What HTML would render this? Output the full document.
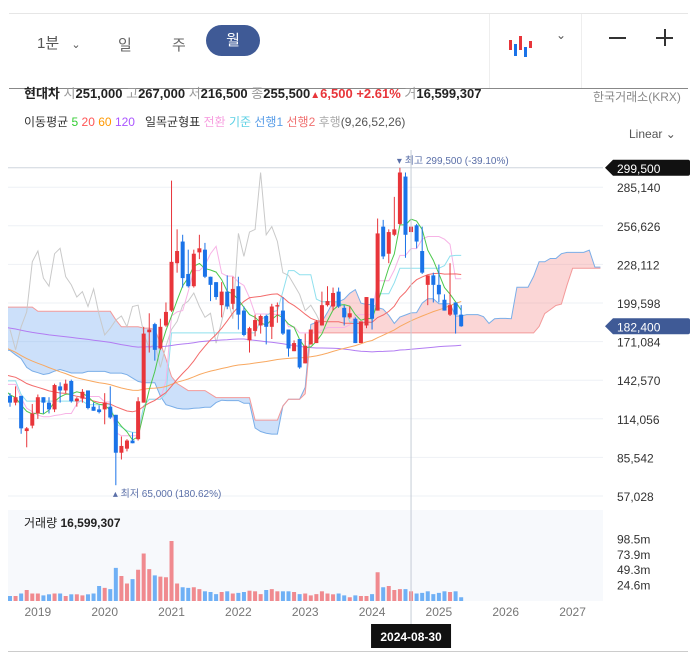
<!DOCTYPE html>
<html><head><meta charset="utf-8">
<style>
html,body{margin:0;padding:0;background:#fff;}
body{width:697px;height:663px;position:relative;overflow:hidden;font-family:"Liberation Sans","Noto Sans CJK KR",sans-serif;}
.a{position:absolute;white-space:nowrap;}
</style></head><body>
<div class="a" style="left:9px;top:13px;width:679px;height:1px;background:#e6e6e6"></div>
<div class="a" style="left:37px;top:32px;font-size:15px;color:#555">1분 <span style="font-size:11px;margin-left:8px">⌄</span></div>
<div class="a" style="left:118px;top:34px;font-size:15px;color:#666">일</div>
<div class="a" style="left:172px;top:34px;font-size:15px;color:#666">주</div>
<div class="a" style="left:206px;top:25px;width:54px;height:31px;border-radius:16px;background:#3f5a96;color:#fff;font-size:15px;text-align:center;line-height:31px">월</div>
<div class="a" style="left:489px;top:14px;width:1px;height:74px;background:#eee"></div>
<div class="a" style="left:581px;top:14px;width:1px;height:74px;background:#eee"></div>
<svg class="a" style="left:508px;top:34px" width="26" height="34">
<rect x="1" y="6" width="3" height="10" fill="#e8353a"/><rect x="6" y="10" width="3" height="12" fill="#1a73e8"/><rect x="11" y="2" width="3" height="14" fill="#e8353a"/><rect x="16" y="13" width="3" height="10" fill="#1a73e8"/><rect x="21" y="7" width="3" height="7" fill="#e8353a"/></svg>
<div class="a" style="left:556px;top:28px;font-size:12px;color:#555">⌄</div>
<div class="a" style="left:609px;top:37px;width:17px;height:1.5px;background:#333"></div>
<div class="a" style="left:656px;top:37px;width:17px;height:1.5px;background:#333"></div>
<div class="a" style="left:664px;top:29px;width:1.5px;height:17px;background:#333"></div>
<div class="a" style="left:9px;top:88px;width:679px;height:1px;background:#888"></div>
<div class="a" style="left:24px;top:86px;font-size:13px;color:#222;line-height:16px">
<b>현대차</b> <span style="color:#999">시</span><b>251,000</b> <span style="color:#999">고</span><b>267,000</b> <span style="color:#999">저</span><b>216,500</b> <span style="color:#999">종</span><b>255,500</b><span style="color:#e8353a;font-size:10px">▲</span><b style="color:#e8353a">6,500 +2.61%</b> <span style="color:#999">거</span><b>16,599,307</b></div>
<div class="a" style="left:593px;top:88px;font-size:12px;color:#888">한국거래소(KRX)</div>
<div class="a" style="left:24px;top:113px;font-size:12px;color:#333">이동평균 <span style="color:#3c3">5</span> <span style="color:#f55">20</span> <span style="color:#f90">60</span> <span style="color:#a5f">120</span> &nbsp; 일목균형표 <span style="color:#f7a0e0">전환</span> <span style="color:#5cd0e4">기준</span> <span style="color:#5a9ee8">선행1</span> <span style="color:#f07070">선행2</span> <span style="color:#aaa">후행</span><span style="color:#555">(9,26,52,26)</span></div>
<div class="a" style="left:629px;top:127px;font-size:12px;color:#555">Linear ⌄</div>
<svg class="a" id="chart" style="left:0;top:0" width="697" height="663"><defs><clipPath id="plot"><rect x="8" y="140" width="595" height="365"/></clipPath></defs></svg>
<script>
const opens=[131,126,131,105,109,118,130,126,121,138,135,142,127,129,135,123,121,121,123,117,89,92,98,99,126,178,184,166,183,194,229,245,221,212,237,239,219,215,198,208,199,212,194,172,179,183,190,182,197,194,180,164,173,155,169,170,183,198,197,208,196,189,188,170,183,203,194,256,236,250,258,293,252,257,238,213,220,213,202,191,200,191];
const highs=[133,138,131,108,125,132,130,130,140,141,143,143,130,136,135,126,124,133,138,117,101,99,104,130,182,192,185,188,200,290,254,250,239,239,250,244,219,215,215,220,219,219,197,182,191,191,191,199,200,204,180,172,173,177,180,187,208,212,211,211,198,197,189,186,204,203,262,261,254,278,299.5,296,256,258,256,220,222,228,206,229,200,198];
const lows=[123,124,103,93,107,114,118,118,119,126,133,126,123,126,121,120,118,110,114,65,84,90,96,98,126,163,157,165,182,193,222,211,211,211,232,218,201,202,189,195,195,180,175,163,175,177,169,173,185,176,160,164,151,155,169,170,183,197,194,196,183,188,170,170,181,180,194,232,229,249,257,233,252,240,221,198,200,200,194,190,177,182];
const closes=[126,130,107,107,118,130,126,121,139,135,140,127,129,134,122,120,119,126,115,89,94,98,96,127,177,180,165,182,193,230,238,218,212,236,240,219,213,204,208,197,210,191,176,181,187,190,182,197,198,177,166,170,152,168,180,186,198,201,207,197,189,192,170,186,204,188,251,234,252,254,296,250,256,245,222,220,213,206,194,198,191,182.4];
const volumes=[8,8,12,17.6,12,12,9,10.7,12,12,8,10.7,10.7,9,10.7,12,24,21,19,53,40,28,35,50,76,51,41,39,38,96,28,22,21,22,19,15.5,14.4,11,14.4,15.5,12,13,14.4,16.5,15.5,11,17.6,19,15.5,15.5,15.5,14.4,11,12,9,11,15.5,12,10.7,12,9,6,9,8,8,11,46,22,24,17.6,19,19,15.5,12,13,15.5,11,13,15.5,14.4,15.5,6];
// monthly closes before the visible window (2012-03 .. 2018-07), used only for indicator warm-up
const preCloses=[250,245,240,245,250,258,250,245,240,235,225,230,215,205,210,215,225,235,245,252,240,230,225,215,225,230,230,220,228,215,190,180,175,165,160,165,170,165,150,140,135,130,140,150,160,145,140,140,148,140,135,138,140,145,150,145,150,145,150,150,155,150,155,150,150,155,150,145,150,150,150,150,145,140,135,130,128];
const yTickValues=[285140,256626,228112,199598,171084,142570,114056,85542,57028];
const volTickLabels=['98.5m','73.9m','49.3m','24.6m'];
const volTickValues=[98.5,73.9,49.3,24.6];
const years=[2019,2020,2021,2022,2023,2024,2025,2026,2027];
const startYear=2018, startMonth=8;

const svg=document.getElementById('chart');
const NS='http://www.w3.org/2000/svg';
function mk(t,a,p){const e=document.createElementNS(NS,t);for(const k in a)e.setAttribute(k,a[k]);(p||svg).appendChild(e);return e;}
const X0=10,DX=5.57;
const xs=i=>X0+i*DX;
const ys=p=>496-(p*1000-57028)/738.7;
const yv=m=>601-m/1.6;
const fmt=n=>n.toLocaleString('en-US');
const N=closes.length;
const P=preCloses.length;
const C=preCloses.concat(closes);
const H=preCloses.map(c=>c*1.04).concat(highs);
const L=preCloses.map(c=>c*0.96).concat(lows);

for(const v of yTickValues){const l=mk('line',{x1:8,x2:603,y1:ys(v/1000),y2:ys(v/1000),stroke:'#eef1f5'});


const t=mk('text',{x:617,y:ys(v/1000)+5,'font-size':12,fill:'#333'});t.textContent=fmt(v);

}
const topLine=mk('line',{x1:8,x2:603,y1:ys(299.5),y2:ys(299.5),stroke:'#cfd6de'});



const G=mk('g',{'clip-path':'url(#plot)'});



function sma(arr,n){return arr.map((_,i)=>{const s=arr.slice(Math.max(0,i-n+1),i+1);return s.reduce((a,b)=>a+b,0)/s.length;});}
function mid(n,i){const lo=Math.max(0,i-n+1);let h=-1e9,l=1e9;for(let k=lo;k<=i;k++){h=Math.max(h,H[k]);l=Math.min(l,L[k]);}return (h+l)/2;}
function line(pts,color,name,w){const d=pts.filter(p=>p).map((p,j)=>(j?'L':'M')+p[0].toFixed(1)+','+p[1].toFixed(1)).join('');const e=mk('path',{d,fill:'none',stroke:color,'stroke-width':w||1},G);

return e;}
const fx=k=>xs(k-P);

const conv=C.map((_,i)=>mid(9,i));
const base=C.map((_,i)=>mid(26,i));
const span1=conv.map((c,i)=>(c+base[i])/2);
const span2=C.map((_,i)=>mid(52,i));
const sh=25;
const vis=(i,s)=>fx(i+s)>=-6;
// cloud via clip paths
const s1pts=[],s2pts=[];
for(let i=0;i<C.length;i++){if(vis(i,sh)){s1pts.push([fx(i+sh),ys(span1[i])]);s2pts.push([fx(i+sh),ys(span2[i])]);}}
const polyStr=(pts,yEdge)=>pts.map(p=>p[0].toFixed(1)+','+p[1].toFixed(1)).join(' ')+` ${pts[pts.length-1][0]},${yEdge} ${pts[0][0]},${yEdge}`;
const defs=svg.querySelector('defs');
const cpB1=mk('clipPath',{id:'belowS1'},defs);mk('polygon',{points:polyStr(s1pts,600)},cpB1);
const cpB2=mk('clipPath',{id:'belowS2'},defs);mk('polygon',{points:polyStr(s2pts,600)},cpB2);
const redCloud=mk('polygon',{points:polyStr(s2pts,0),fill:'rgba(242,120,120,0.3)','clip-path':'url(#belowS1)'},G);


const blueCloud=mk('polygon',{points:polyStr(s1pts,0),fill:'rgba(110,165,240,0.35)','clip-path':'url(#belowS2)'},G);



line(span1.map((v,i)=>vis(i,sh)?[fx(i+sh),ys(v)]:null),'#7aaee8','leading-span-1');
line(span2.map((v,i)=>vis(i,sh)?[fx(i+sh),ys(v)]:null),'#f39a9a','leading-span-2');
line(closes.map((v,i)=>i-sh>=0?[xs(i-sh),ys(v)]:null),'#c9c9c9','lagging-span');
line(conv.map((v,i)=>vis(i,0)?[fx(i),ys(v)]:null),'#f7b3e6','conversion-line');
line(base.map((v,i)=>vis(i,0)?[fx(i),ys(v)]:null),'#8fe0ee','base-line');
line(sma(C,120).map((v,i)=>vis(i,0)?[fx(i),ys(v)]:null),'#b27cf2','ma-120');
line(sma(C,60).map((v,i)=>vis(i,0)?[fx(i),ys(v)]:null),'#f8a860','ma-60');
line(sma(C,20).map((v,i)=>vis(i,0)?[fx(i),ys(v)]:null),'#f36b6b','ma-20');
line(sma(C,5).map((v,i)=>vis(i,0)?[fx(i),ys(v)]:null),'#4cc84c','ma-5');

for(let i=0;i<N;i++){
 const up=closes[i]>=opens[i];const c=up?'#e8353a':'#1a73e8';
 const x=xs(i);
 const w=mk('line',{x1:x,x2:x,y1:ys(highs[i]),y2:ys(lows[i]),stroke:c,'stroke-width':1});
 
 
 const t=Math.min(ys(opens[i]),ys(closes[i])),b=Math.max(ys(opens[i]),ys(closes[i]));
 const r=mk('rect',{x:x-2,y:t,width:4,height:Math.max(1,b-t),fill:c});
 
 
}
let hi=0,lo=0;for(let i=0;i<N;i++){if(highs[i]>highs[hi])hi=i;if(lows[i]<lows[lo])lo=i;}
const last=closes[N-1];
const ht=mk('text',{x:xs(hi)-3,y:ys(highs[hi])-4,'font-size':10,fill:'#5a6fa8'});ht.textContent='▾ 최고 '+fmt(highs[hi]*1000)+' ('+((last-highs[hi])/highs[hi]*100).toFixed(2)+'%)';


const lt=mk('text',{x:xs(lo)-3,y:ys(lows[lo])+12,'font-size':10,fill:'#5a6fa8'});lt.textContent='▴ 최저 '+fmt(lows[lo]*1000)+' ('+((last-lows[lo])/lows[lo]*100).toFixed(2)+'%)';



function tag(p,color,name){const y=ys(p);const g=mk('g',{});


mk('path',{d:`M605,${y} L613,${y-8} L688,${y-8} Q690,${y-8} 690,${y-6} L690,${y+6} Q690,${y+8} 688,${y+8} L613,${y+8} Z`,fill:color},g);
const t=mk('text',{x:617,y:y+5,'font-size':12,fill:'#fff'},g);t.textContent=fmt(Math.round(p*1000));}
tag(highs[hi],'#111','high-price-tag');
tag(last,'#3f5a96','last-price-tag');

const vb=mk('rect',{x:8,y:510,width:595,height:91,fill:'#f7f9fc'});


for(let i=0;i<N;i++){
 const up=i==0?closes[i]>=opens[i]:closes[i]>=closes[i-1];
 const r=mk('rect',{x:xs(i)-2,y:yv(volumes[i]),width:4,height:601-yv(volumes[i]),fill:up?'#f08a8f':'#6fb0f5'});
 
 
}
volTickValues.forEach((v,k)=>{const t=mk('text',{x:617,y:yv(v)+4,'font-size':12,fill:'#333'});t.textContent=volTickLabels[k];

});
const vt=mk('text',{x:24,y:527,'font-size':12,fill:'#222'});vt.innerHTML='거래량 <tspan font-weight="bold">16,599,307</tspan>';



years.forEach(y=>{const i=(y-startYear)*12+(1-startMonth);const t=mk('text',{x:xs(i),y:616,'font-size':12,fill:'#777','text-anchor':'middle'});t.textContent=y;

});
const bl=mk('line',{x1:8,x2:688,y1:651.5,y2:651.5,stroke:'#ccc'});



const ci=(2024-startYear)*12+(8-startMonth);
const cx=xs(ci);
const ch=mk('line',{x1:cx,x2:cx,y1:150,y2:624,stroke:'#c5ccd6'});


const cb=mk('rect',{x:cx-40,y:624,width:80,height:24,fill:'#111'});


const ct=mk('text',{x:cx,y:641,'font-size':12,fill:'#fff','text-anchor':'middle','font-weight':'bold'});ct.textContent='2024-08-30';


</script>
</body></html>
